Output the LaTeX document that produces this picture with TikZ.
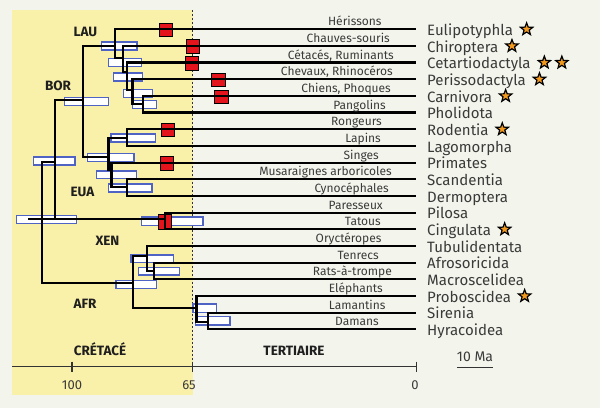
\documentclass[tikz,border=0pt]{standalone}
\usepackage{fontspec}
\setmainfont{Fira Sans}
\usetikzlibrary{shapes.geometric,calc}
\definecolor{bgc}{HTML}{F3F5EC}
\definecolor{yel}{HTML}{F9F0AA}
\definecolor{cib}{HTML}{4F63C4}
\definecolor{fos}{HTML}{E3141C}
\definecolor{stc}{HTML}{F29A1F}
\definecolor{txt}{HTML}{3A3A3A}
\begin{document}
\begin{tikzpicture}[x=1pt,y=-1pt,
  br/.style={line width=2.3pt, line join=miter, line cap=butt},
  ci/.style={draw=cib, fill=white, line width=1.2pt},
  fossil/.style={draw=black, fill=fos, line width=0.9pt},
  ordre/.style={font=\fontsize{15}{15}\selectfont, text=txt, inner sep=0pt, anchor=base west},
  vern/.style={font=\fontsize{12}{12}\selectfont, text=txt, inner sep=0pt, anchor=base east},
  grp/.style={font=\fontsize{13.5}{13.5}\selectfont\bfseries, text=black!88, inner sep=0pt, anchor=base},
  tick/.style={font=\fontsize{13}{13}\selectfont, text=txt, inner sep=0pt, anchor=base},
  etoile/.style={star, star points=5, star point ratio=2.4, draw=black, fill=stc, line width=1.2pt, minimum size=13pt, inner sep=0pt},
]
\useasboundingbox (0,0) rectangle (600,408);
\fill[bgc] (0,0) rectangle (600,408);
\fill[yel] (12,10) rectangle (192.5,395);
\draw[black!80, line width=1.2pt, dash pattern=on 2pt off 2pt] (192.5,10) -- (192.5,366.7);

% axis
\coordinate (ax0) at (12,366.7);
\coordinate (ax1) at (416.5,366.7);
\draw[black!80, line width=1.3pt] (ax0) -- (ax1);
\draw[black!80, line width=1.3pt] (72,361.5) -- (72,372);
\draw[black!80, line width=1.3pt] (192.5,361.5) -- (192.5,372);
\draw[black!80, line width=1.3pt] (416.5,361.5) -- (416.5,372);
\node[tick] (t100) at (72,389.5) {100};
\node[tick] (t65) at (189,389.5) {65};
\node[tick] (t0) at (415,389.5) {0};
\node[tick, font=\fontsize{14}{14}\selectfont] (sc) at (475,361.5) {10 Ma};
\draw[black!80, line width=1.3pt] (457.3,367.3) -- (493.3,367.3);

% group labels
\node[grp] (gLAU) at (85.5,36.7) {LAU};
\node[grp] (gBOR) at (58,90.7) {BOR};
\node[grp] (gEUA) at (82.5,196.7) {EUA};
\node[grp] (gXEN) at (107.5,245) {XEN};
\node[grp] (gAFR) at (85,308.3) {AFR};
\node[grp] (gCRE) at (100,355) {CRÉTACÉ};
\node[grp] (gTER) at (294,355) {TERTIAIRE};

% confidence intervals
\foreach \a/\b/\c/\d in {101.7/42/137/50, 108.3/58.5/141.7/66.5, 113.3/73/142.7/81, 123.3/89.3/152.3/97.3, 132.7/100.5/156.5/108.5,
  64.3/97.5/108.3/105.5, 111/134/155.5/142, 87.3/153.3/134/161.5, 96.7/171/136.7/178.7, 108.3/184/152/192,
  33.3/157/75/165, 16.7/215.5/76.7/223.3, 141.7/217/203/225.7,
  116/280.3/156.5/288.3, 131/255/173.3/262.7, 138.3/267.3/179.3/275, 193/304/216.5/312.5, 195.5/316.7/230/325}
  \draw[ci] (\a,\b) rectangle (\c,\d);

% fossil calibrations
\foreach \a/\b/\c/\d in {159/23.3/172.7/36.7, 186/39.5/199/53, 185/56.7/198.3/70, 211.7/73.3/225/86.7, 214.7/90/228/103.3,
  161.5/123.3/174.5/136.7, 160.3/156.7/173.7/170, 158.5/214.5/171.5/229}
  \draw[fossil] (\a,\b) rectangle (\c,\d);

% internal nodes
\coordinate (RS) at (28,219.3);
\coordinate (R) at (42,219.3);
\coordinate (EX) at (55,161.7);
\coordinate (BOR) at (83.3,100);
\coordinate (L1) at (115,46);
\coordinate (L2) at (123,58);
\coordinate (L3) at (127,72);
\coordinate (L4) at (132.5,90);
\coordinate (L5) at (143,104);
\coordinate (E1) at (108.5,156.7);
\coordinate (G) at (126.7,138.3);
\coordinate (E2) at (111.5,170);
\coordinate (E3) at (126.7,187.3);
\coordinate (XN) at (165.3,219.3);
\coordinate (A1) at (132.7,282.7);
\coordinate (A2) at (146.7,256);
\coordinate (A3) at (154,271);
\coordinate (A4) at (196.5,308.3);
\coordinate (A5) at (208.3,321.7);

% leaves
\coordinate (eul) at (416,29.3);
\coordinate (chi) at (416,46.0);
\coordinate (cet) at (416,62.6);
\coordinate (per) at (416,79.3);
\coordinate (car) at (416,96.0);
\coordinate (pho) at (416,112.6);
\coordinate (rod) at (416,129.3);
\coordinate (lag) at (416,146.0);
\coordinate (pri) at (416,162.7);
\coordinate (sca) at (416,179.3);
\coordinate (der) at (416,196.0);
\coordinate (pil) at (416,212.7);
\coordinate (cin) at (416,229.3);
\coordinate (tub) at (416,246.0);
\coordinate (afr) at (416,262.7);
\coordinate (mac) at (416,279.3);
\coordinate (pro) at (416,296.0);
\coordinate (sir) at (416,312.7);
\coordinate (hyr) at (416,329.3);

% branches
\draw[br] (RS) -- (R) -- (EX |- R);
\draw[br] (R) |- (EX);
\draw[br] (R) |- (A1);
\draw[br] (EX) |- (BOR);
\draw[br] (EX) |- (XN);
\draw[br] (BOR) |- (L1);
\draw[br] (BOR) |- (E1);
\draw[br] (L1) |- (eul);
\draw[br] (L1) |- (L2);
\draw[br] (L2) |- (chi);
\draw[br] (L2) |- (L3);
\draw[br] (L3) |- (cet);
\draw[br] (L3) |- (L4);
\draw[br] (L4) |- (per);
\draw[br] (L4) |- (L5);
\draw[br] (L5) |- (car);
\draw[br] (L5) |- (pho);
\draw[br] (E1) |- (G);
\draw[br] (E1) |- (E2);
\draw[br] (G) |- (rod);
\draw[br] (G) |- (lag);
\draw[br] (E2) |- (pri);
\draw[br] (E2) |- (E3);
\draw[br] (E3) |- (sca);
\draw[br] (E3) |- (der);
\draw[br] (XN) |- (pil);
\draw[br] (XN) |- (cin);
\draw[br] (A1) |- (A2);
\draw[br] (A1) |- (A4);
\draw[br] (A2) |- (tub);
\draw[br] (A2) |- (A3);
\draw[br] (A3) |- (afr);
\draw[br] (A3) |- (mac);
\draw[br] (A4) |- (pro);
\draw[br] (A4) |- (A5);
\draw[br] (A5) |- (sir);
\draw[br] (A5) |- (hyr);

% order names
\node[ordre] (nEul) at (427,35.3) {Eulipotyphla};
\node[ordre] (nChi) at (427,52.0) {Chiroptera};
\node[ordre] (nCet) at (427,68.6) {Cetartiodactyla};
\node[ordre] (nPer) at (427,85.3) {Perissodactyla};
\node[ordre] (nCar) at (427,102.0) {Carnivora};
\node[ordre] (nPho) at (427,118.6) {Pholidota};
\node[ordre] (nRod) at (427,135.3) {Rodentia};
\node[ordre] (nLag) at (427,152.0) {Lagomorpha};
\node[ordre] (nPri) at (427,168.7) {Primates};
\node[ordre] (nSca) at (427,185.3) {Scandentia};
\node[ordre] (nDer) at (427,202.0) {Dermoptera};
\node[ordre] (nPil) at (427,218.7) {Pilosa};
\node[ordre] (nCin) at (427,235.3) {Cingulata};
\node[ordre] (nTub) at (427,252.0) {Tubulidentata};
\node[ordre] (nAfr) at (427,268.7) {Afrosoricida};
\node[ordre] (nMac) at (427,285.3) {Macroscelidea};
\node[ordre] (nPro) at (427,302.0) {Proboscidea};
\node[ordre] (nSir) at (427,318.7) {Sirenia};
\node[ordre] (nHyr) at (427,335.3) {Hyracoidea};

% stars
\node[etoile] (sEul) at ($(nEul.east |- eul)+(13.5,0)$) {};
\node[etoile] (sChi) at ($(nChi.east |- chi)+(13.5,0)$) {};
\node[etoile] (sCet1) at ($(nCet.east |- cet)+(13.5,0)$) {};
\node[etoile] (sCet2) at ($(nCet.east |- cet)+(31,0)$) {};
\node[etoile] (sPer) at ($(nPer.east |- per)+(13.5,0)$) {};
\node[etoile] (sCar) at ($(nCar.east |- car)+(13.5,0)$) {};
\node[etoile] (sRod) at ($(nRod.east |- rod)+(13.5,0)$) {};
\node[etoile] (sCin) at ($(nCin.east |- cin)+(13.5,0)$) {};
\node[etoile] (sPro) at ($(nPro.east |- pro)+(13.5,0)$) {};

% vernacular names
\node[vern] (vEul) at (381.7,25.8) {Hérissons};
\node[vern] (vChi) at (390,42.5) {Chauves-souris};
\node[vern] (vCet) at (394,59.1) {Cétacés, Ruminants};
\node[vern] (vPer) at (393,75.8) {Chevaux, Rhinocéros};
\node[vern] (vCar) at (391,92.5) {Chiens, Phoques};
\node[vern] (vPho) at (386,109.1) {Pangolins};
\node[vern] (vRod) at (382,125.8) {Rongeurs};
\node[vern] (vLag) at (381,142.5) {Lapins};
\node[vern] (vPri) at (379,159.2) {Singes};
\node[vern] (vSca) at (392,175.8) {Musaraignes arboricoles};
\node[vern] (vDer) at (389,192.5) {Cynocéphales};
\node[vern] (vPil) at (383,209.2) {Paresseux};
\node[vern] (vCin) at (381,225.8) {Tatous};
\node[vern] (vTub) at (381.7,242.5) {Oryctéropes};
\node[vern] (vAfr) at (379,259.2) {Tenrecs};
\node[vern] (vMac) at (392,275.8) {Rats-à-trompe};
\node[vern] (vPro) at (383,292.5) {Eléphants};
\node[vern] (vSir) at (385.7,309.2) {Lamantins};
\node[vern] (vHyr) at (379,325.8) {Damans};
\end{tikzpicture}
\end{document}
